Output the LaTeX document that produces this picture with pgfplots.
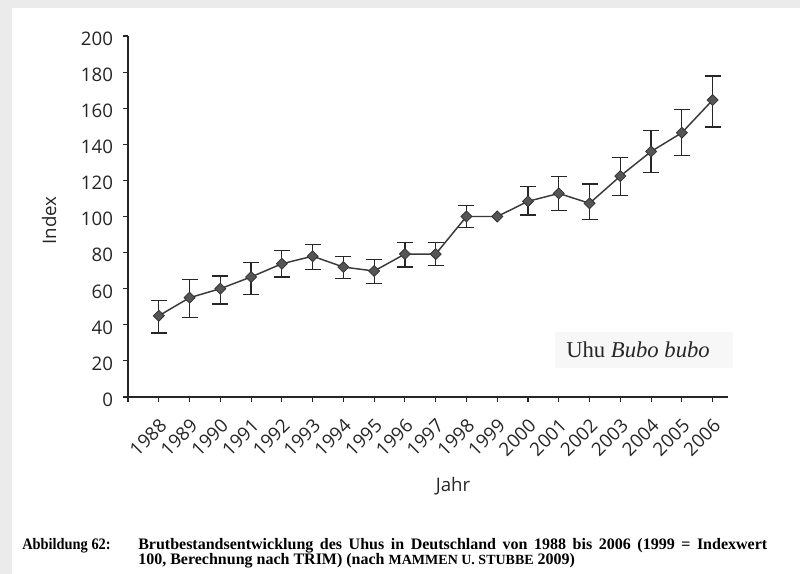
\documentclass[border=0pt]{standalone}
\usepackage{fontspec}
\setmainfont{Liberation Serif}
\setsansfont{Open Sans}
\usepackage{graphicx}
\usepackage{pgfplots}
\usepackage{pgfplotstable}
\pgfplotsset{compat=1.18}
\definecolor{pagegray}{HTML}{EBEBEB}
\definecolor{linegray}{HTML}{3A3A3A}
\definecolor{markgray}{HTML}{555555}

\pgfplotstableread{
x y ep em
1988 45 8.5 9.5
1989 55 10 11
1990 60 7 8.5
1991 66.5 8 9.7
1992 73.8 7.2 7.3
1993 78 6.5 7.2
1994 72 5.8 6.5
1995 69.8 6.2 6.8
1996 79.2 6.3 7.2
1997 79.2 6.3 6.4
1998 100 6 6.3
2000 108.4 8.1 7.6
2001 112.8 9.2 9.5
2002 107.3 10.7 9.1
2003 122.4 10.4 10.8
2004 136 11.5 11.7
2005 146.4 12.8 12.7
2006 164.5 13.3 14.9
}\errtable

\pgfplotstableread{
x y
1988 45
1989 55
1990 60
1991 66.5
1992 73.8
1993 78
1994 72
1995 69.8
1996 79.2
1997 79.2
1998 100
1999 100
2000 108.4
2001 112.8
2002 107.3
2003 122.4
2004 136
2005 146.4
2006 164.5
}\indextable

\begin{document}
\begin{tikzpicture}
% page background
\fill[pagegray] (0,0) rectangle (600pt,430.5pt);
\fill[white] (9pt,0) rectangle (600pt,424.5pt);
% faint box behind species name
\fill[black!3] (416pt,154.5pt) rectangle (550pt,181.5pt);

\begin{axis}[
  at={(96pt,132.75pt)}, anchor=south west,
  width=450pt, height=270.75pt, scale only axis,
  xmin=1987, xmax=2006.5, ymin=0, ymax=200,
  axis lines*=left,
  axis line style={black!85, line width=1.2pt},
  tick align=outside,
  major tick length=3.75pt,
  tick style={black!85, line width=0.8pt},
  xtick={1988,...,2006},
  extra x ticks={1987}, extra x tick labels={},
  ytick={0,20,...,200},
  /pgf/number format/1000 sep={},
  /pgf/number format/assume math mode=true,
  ticklabel style={font=\sffamily\fontsize{14}{16}\selectfont, text=black!85},
  xticklabel style={xshift=-0.3pt, yshift=-10pt, rotate=45, anchor=north east, inner sep=1pt},
  yticklabel style={anchor=east, xshift=-4pt, yshift=-2pt},
  clip=false,
]
\addplot[draw=none, mark=none, forget plot,
  error bars/.cd, y dir=both, y explicit,
  error bar style={black!85, line width=0.9pt},
  error mark options={rotate=90, black!85, line width=0.9pt, mark size=6pt}]
  table[x=x, y=y, y error plus=ep, y error minus=em] {\errtable};
\addplot[linegray, line width=1.1pt,
  mark=square*, mark size=2.9pt,
  mark options={rotate=45, fill=markgray, draw=black!80, line width=0.6pt}]
  table[x=x, y=y] {\indextable};
\end{axis}

% axis titles
\node[font=\sffamily\fontsize{14}{16}\selectfont, text=black!85, rotate=90, anchor=base] at (42pt,265pt) {Index};
\node[font=\sffamily\fontsize{14}{16}\selectfont, text=black!85, anchor=base] at (339.75pt,61.5pt) {Jahr};
% species label
\node[font=\fontsize{17}{20}\selectfont, text=black!85, anchor=base west, inner sep=0pt] at (424.5pt,162pt) {Uhu \textit{Bubo bubo}};

% caption
\node[anchor=base west, inner sep=0pt, font=\bfseries\fontsize{12}{14}\selectfont] at (16.5pt,18pt) {\scalebox{0.9}[1]{Abbildung 62:}};
\node[anchor=base west, inner sep=0pt, font=\bfseries\fontsize{12}{14}\selectfont] at (103.5pt,18pt) {\makebox[471.75pt][s]{Brutbestandsentwicklung des Uhus in Deutschland von 1988 bis 2006 (1999 = Indexwert}};
\node[anchor=base west, inner sep=0pt, font=\bfseries\fontsize{12}{14}\selectfont] at (103.5pt,6.75pt) {100, Berechnung nach TRIM) (nach {\fontsize{10.5}{12}\selectfont MAMMEN U. STUBBE} 2009)};

\pgfresetboundingbox
\path (0,0) rectangle (600pt,430.5pt);
\end{tikzpicture}
\end{document}
